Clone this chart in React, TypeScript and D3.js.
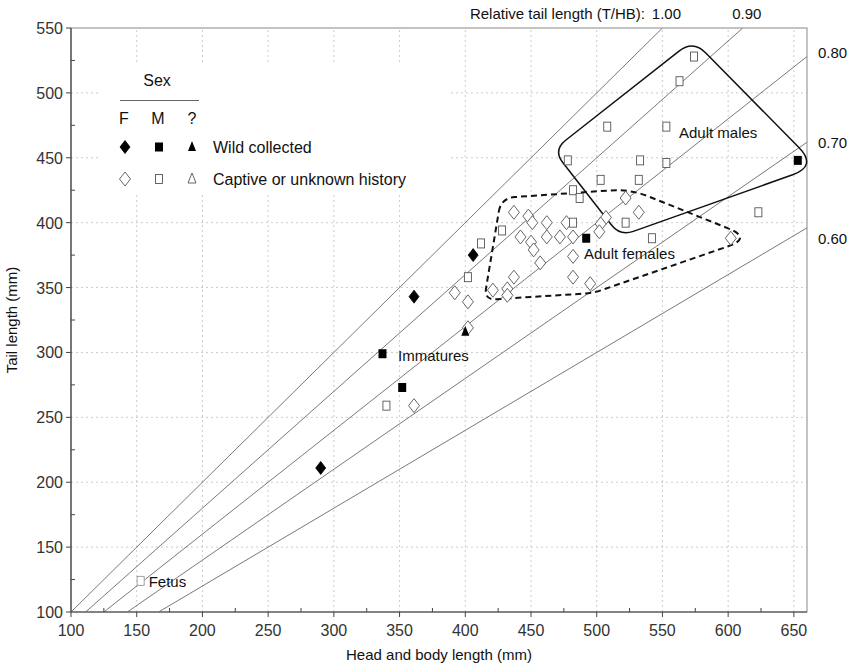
import React from 'react';
import * as d3 from 'd3';

type Pt = [number, number];

const xTicks = [100, 150, 200, 250, 300, 350, 400, 450, 500, 550, 600, 650];
const yTicks = [100, 150, 200, 250, 300, 350, 400, 450, 500, 550];
const xMinor = [125, 175, 225, 275, 325, 375, 425, 475, 525, 575, 625];
const yMinor = [125, 175, 225, 275, 325, 375, 425, 475, 525];
const ratios = [1.0, 0.9, 0.8, 0.7, 0.6];
const topRatioLabels = ['1.00', '0.90'];
const sideRatioLabels = ['0.80', '0.70', '0.60'];
const sideLabelDy = [-4, 1, 11];

const wildFemale: Pt[] = [[290, 211], [361, 343], [406, 375]];
const wildMale: Pt[] = [[337, 299], [352, 273], [492, 388], [653, 448]];
const wildUnknown: Pt[] = [[400, 316]];
const captiveFemale: Pt[] = [
  [361, 259], [392, 346], [402, 339], [402, 319], [421, 348], [432, 349], [432, 344],
  [437, 358], [442, 389], [437, 408], [448, 405], [451, 400], [450, 385], [452, 379],
  [457, 369], [462, 400], [462, 389], [472, 389], [477, 400], [482, 389], [482, 374],
  [482, 358], [495, 353], [507, 404], [503, 399], [502, 393], [522, 419], [532, 408],
  [602, 388],
];
const captiveMale: Pt[] = [
  [340, 259], [402, 358], [412, 384], [428, 394], [482, 400], [482, 425], [487, 419],
  [522, 400], [542, 388], [623, 408], [478, 448], [533, 448], [553, 446], [503, 433],
  [532, 433], [508, 474], [553, 474], [563, 509], [574, 528],
];
const fetus: Pt[] = [[153, 124]];

const adultMalesOutline: Pt[] = [[466.8, 455.9], [573.4, 540.7], [667.7, 443.6], [517.8, 389.7]];
const adultMalesRadii = [16, 18, 26, 14];
const adultFemalesOutline: Pt[] = [[427.2, 419], [525.4, 425.9], [618.3, 388.2], [497.3, 345.8], [414.3, 340.4]];
const adultFemalesRadii = [14, 20, 26, 8, 12];

const W = 855;
const H = 665;
const X0 = 100, X1 = 660, Y0 = 100, Y1 = 550;
const x = d3.scaleLinear().domain([X0, X1]).range([71, 807]);
const y = d3.scaleLinear().domain([Y0, Y1]).range([612, 28]);

const FONT = '"Liberation Sans", Arial, Helvetica, sans-serif';

function roundedPath(pts: Pt[], radii: number[]): string {
  const p = pts.map(([a, b]) => [x(a), y(b)] as Pt);
  const n = p.length;
  const path = d3.path();
  const corners = p.map((v, i) => {
    const prev = p[(i - 1 + n) % n];
    const next = p[(i + 1) % n];
    const l1 = Math.hypot(prev[0] - v[0], prev[1] - v[1]);
    const l2 = Math.hypot(next[0] - v[0], next[1] - v[1]);
    const r1 = Math.min(radii[i], l1 / 2);
    const r2 = Math.min(radii[i], l2 / 2);
    const a: Pt = [v[0] + ((prev[0] - v[0]) * r1) / l1, v[1] + ((prev[1] - v[1]) * r1) / l1];
    const b: Pt = [v[0] + ((next[0] - v[0]) * r2) / l2, v[1] + ((next[1] - v[1]) * r2) / l2];
    return { v, a, b };
  });
  corners.forEach((c, i) => {
    if (i === 0) path.moveTo(c.a[0], c.a[1]);
    else path.lineTo(c.a[0], c.a[1]);
    path.quadraticCurveTo(c.v[0], c.v[1], c.b[0], c.b[1]);
  });
  path.closePath();
  return path.toString();
}

const diamondPath = (cx: number, cy: number, hw: number, hh: number) =>
  `M${cx},${cy - hh}L${cx + hw},${cy}L${cx},${cy + hh}L${cx - hw},${cy}Z`;
const trianglePath = (cx: number, cy: number, hw: number, h: number) =>
  `M${cx},${cy - h * 0.6}L${cx + hw},${cy + h * 0.4}L${cx - hw},${cy + h * 0.4}Z`;

function Diamond({ cx, cy, filled }: { cx: number; cy: number; filled: boolean }) {
  return filled ? (
    <path d={diamondPath(cx, cy, 5, 6.5)} fill="#000" stroke="#000" strokeWidth={0.8} />
  ) : (
    <path d={diamondPath(cx, cy, 5.5, 7)} fill="#fff" stroke="#555" strokeWidth={0.9} />
  );
}
function Square({ cx, cy, filled, color }: { cx: number; cy: number; filled: boolean; color?: string }) {
  return filled ? (
    <rect x={cx - 4} y={cy - 4.5} width={8} height={9} fill="#000" />
  ) : (
    <rect x={cx - 3.5} y={cy - 4.5} width={7} height={9} fill="#fff" stroke={color || '#555'} strokeWidth={0.9} />
  );
}
function Triangle({ cx, cy, filled }: { cx: number; cy: number; filled: boolean }) {
  return filled ? (
    <path d={trianglePath(cx, cy, 4, 10)} fill="#000" />
  ) : (
    <path d={trianglePath(cx, cy, 4, 10)} fill="#fff" stroke="#555" strokeWidth={0.9} />
  );
}

export default function App() {
  const [px0, px1] = x.range();
  const [py0, py1] = y.range();
  return (
    <svg width={W} height={H} style={{ position: 'absolute', left: 0, top: 0, background: '#fff' }} fontFamily={FONT}>
      <defs>
        <clipPath id="plot">
          <rect x={px0} y={py1} width={px1 - px0} height={py0 - py1} />
        </clipPath>
      </defs>
      {/* grid */}
      <g stroke="#cccccc" strokeWidth={1} strokeDasharray="2,3">
        {xTicks.filter((t) => t > X0).map((t) => (
          <line key={'gx' + t} x1={x(t)} x2={x(t)} y1={py0} y2={py1} />
        ))}
        {yTicks.filter((t) => t > Y0 && t < Y1).map((t) => (
          <line key={'gy' + t} x1={px0} x2={px1} y1={y(t)} y2={y(t)} />
        ))}
      </g>
      {/* legend background */}
      <rect x={100} y={62} width={350} height={132} fill="#fff" />
      {/* ratio lines */}
      <g clipPath="url(#plot)" stroke="#6a6a6a" strokeWidth={0.9}>
        {ratios.map((r) => {
          const xa = Math.max(X0, Y0 / r);
          const xb = Math.min(X1, Y1 / r);
          return <line key={'r' + r} x1={x(xa)} y1={y(r * xa)} x2={x(xb)} y2={y(r * xb)} />;
        })}
      </g>
      {/* frame */}
      <rect x={px0} y={py1} width={px1 - px0} height={py0 - py1} fill="none" stroke="#888" strokeWidth={1} />
      <line x1={px0} x2={px0} y1={py0} y2={py1} stroke="#444" strokeWidth={1.2} />
      <line x1={px0} x2={px1} y1={py0} y2={py0} stroke="#444" strokeWidth={1.2} />
      {/* ticks */}
      <g stroke="#444" strokeWidth={1}>
        {xTicks.map((t) => (
          <line key={'tx' + t} x1={x(t)} x2={x(t)} y1={py0} y2={py0 + 5} />
        ))}
        {xMinor.map((t) => (
          <line key={'mx' + t} x1={x(t)} x2={x(t)} y1={py0} y2={py0 - 4} />
        ))}
        {yTicks.map((t) => (
          <line key={'ty' + t} x1={px0 - 5} x2={px0} y1={y(t)} y2={y(t)} />
        ))}
        {yMinor.map((t) => (
          <line key={'my' + t} x1={px0} x2={px0 + 4} y1={y(t)} y2={y(t)} />
        ))}
      </g>
      <g fill="#333" fontSize={16}>
        {xTicks.map((t) => (
          <text key={'lx' + t} x={x(t)} y={py0 + 24} textAnchor="middle">{t}</text>
        ))}
        {yTicks.map((t) => (
          <text key={'ly' + t} x={px0 - 8} y={y(t) + 6} textAnchor="end">{t}</text>
        ))}
      </g>
      <text x={(px0 + px1) / 2} y={660} textAnchor="middle" fontSize={15} fill="#111">Head and body length (mm)</text>
      <text transform={`translate(17,${(py0 + py1) / 2}) rotate(-90)`} textAnchor="middle" fontSize={15} fill="#111">Tail length (mm)</text>
      {/* ratio labels */}
      <text x={645} y={19} textAnchor="end" fontSize={15} fill="#111">Relative tail length (T/HB):</text>
      {ratios.slice(0, 2).map((r, i) => (
        <text key={'tl' + r} x={x(Y1 / r) + 4} y={19} textAnchor="middle" fontSize={15} fill="#111">{topRatioLabels[i]}</text>
      ))}
      {ratios.slice(2).map((r, i) => (
        <text key={'sl' + r} x={818} y={y(r * X1) + 5 + sideLabelDy[i]} fontSize={15} fill="#111">{sideRatioLabels[i]}</text>
      ))}
      {/* outlines */}
      <path d={roundedPath(adultMalesOutline, adultMalesRadii)} fill="none" stroke="#111" strokeWidth={1.5} />
      <path d={roundedPath(adultFemalesOutline, adultFemalesRadii)} fill="none" stroke="#111" strokeWidth={2} strokeDasharray="6,4" />
      {/* points */}
      {captiveFemale.map(([a, b], i) => <Diamond key={'cf' + i} cx={x(a)} cy={y(b)} filled={false} />)}
      {captiveMale.map(([a, b], i) => <Square key={'cm' + i} cx={x(a)} cy={y(b)} filled={false} />)}
      {fetus.map(([a, b], i) => <Square key={'fe' + i} cx={x(a)} cy={y(b)} filled={false} color="#999" />)}
      {wildFemale.map(([a, b], i) => <Diamond key={'wf' + i} cx={x(a)} cy={y(b)} filled />)}
      {wildMale.map(([a, b], i) => <Square key={'wm' + i} cx={x(a)} cy={y(b)} filled />)}
      {wildUnknown.map(([a, b], i) => <Triangle key={'wu' + i} cx={x(a)} cy={y(b)} filled />)}
      {/* annotations */}
      <text x={x(fetus[0][0]) + 8} y={y(fetus[0][1]) + 6} fontSize={15} fill="#111">Fetus</text>
      <text x={398} y={361} fontSize={15} fill="#111">Immatures</text>
      <text x={584} y={259} fontSize={15} fill="#111">Adult females</text>
      <text x={679} y={138} fontSize={15} fill="#111">Adult males</text>
      {/* legend */}
      <g fontSize={16} fill="#111">
        <text x={157} y={86} textAnchor="middle">Sex</text>
        <line x1={120} x2={199} y1={100.5} y2={100.5} stroke="#666" strokeWidth={1} />
        <text x={124} y={124} textAnchor="middle">F</text>
        <text x={158} y={124} textAnchor="middle">M</text>
        <text x={192} y={124} textAnchor="middle">?</text>
        <Diamond cx={125} cy={147} filled />
        <Square cx={159} cy={147} filled />
        <Triangle cx={192} cy={147} filled />
        <text x={213} y={153}>Wild collected</text>
        <Diamond cx={125} cy={179} filled={false} />
        <Square cx={159} cy={179} filled={false} />
        <Triangle cx={192} cy={179} filled={false} />
        <text x={213} y={185}>Captive or unknown history</text>
      </g>
    </svg>
  );
}
